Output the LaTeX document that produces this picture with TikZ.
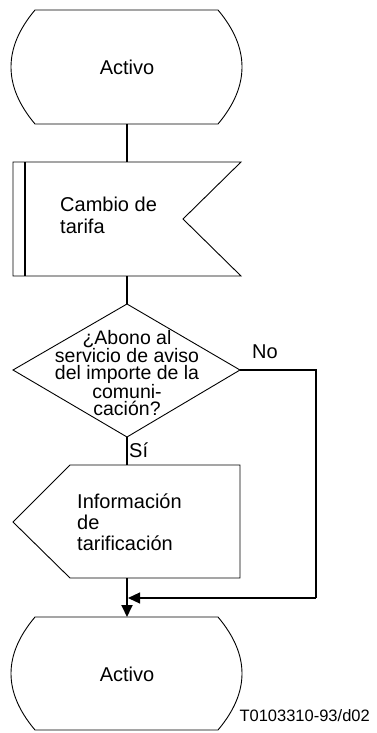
\documentclass[tikz,border=0pt]{standalone}
\usepackage{fontspec}
\setmainfont{Liberation Sans}
\usetikzlibrary{arrows.meta}
\begin{document}
\begin{tikzpicture}[x=1pt,y=-1pt,
  shapeline/.style={draw=black,line width=0.9pt,line join=miter},
  conn/.style={draw=black,line width=1.8pt},
  arr/.style={conn,-{Triangle[length=12pt,width=11pt]}},
  txt/.style={inner sep=0pt,font=\fontsize{20}{22}\selectfont},
  lbl/.style={inner sep=0pt,font=\fontsize{16.5}{18}\selectfont}]
\useasboundingbox (0,0) rectangle (376,733);
% state 1
\draw[shapeline] (35,10) -- (218,10) .. controls (250,48) and (250,86) .. (218,124)
  -- (35,124) .. controls (3,86) and (3,48) .. (35,10) -- cycle;
\node[txt] (s1) at (127,67) {Activo};
\coordinate (s1b) at (127,124);
% input signal
\draw[shapeline] (13,162) -- (241,162) -- (183,219) -- (241,276) -- (13,276) -- cycle;
\draw[line width=1.6pt] (25,162) -- (25,276);
\node[txt,anchor=west,align=left] (c1) at (60,215) {Cambio de\\tarifa};
\coordinate (c1t) at (127,162);
\coordinate (c1b) at (127,276);
% decision
\draw[shapeline] (127,304) -- (240,370) -- (127,437) -- (13,370) -- cycle;
\node[txt,align=center,font=\fontsize{19.5}{16.8}\selectfont] (d1) at (127,373)
  {¿Abono al\\servicio de aviso\\del importe de la\\comuni-\\cación?};
\coordinate (d1t) at (127,304);
\coordinate (d1r) at (240,370);
\coordinate (d1b) at (127,437);
\node[txt,anchor=west] (no) at (252,352) {No};
\node[txt,anchor=west] (si) at (129,450) {Sí};
% output signal
\draw[shapeline] (70,465) -- (240,465) -- (240,578) -- (70,578) -- (13,522) -- cycle;
\node[txt,anchor=west,align=left,font=\fontsize{20}{21}\selectfont] (o1) at (77,522) {Información\\de\\tarificación};
\coordinate (o1t) at (127,465);
\coordinate (o1b) at (127,578);
% state 2
\draw[shapeline] (35,617) -- (218,617) .. controls (250,655) and (250,692) .. (218,730)
  -- (35,730) .. controls (3,692) and (3,655) .. (35,617) -- cycle;
\node[txt] (s2) at (127,674) {Activo};
\coordinate (s2t) at (127,617);
% connectors
\draw[conn] (s1b) -- (c1t);
\draw[conn] (c1b) -- (d1t);
\draw[conn] (d1b) -- (o1t);
\draw[arr] (o1b) -- (s2t);
\coordinate (nocorner) at (316,370);
\coordinate (nojoin) at (316,598);
\coordinate (notip) at (128,598);
\draw[conn,line width=1.2pt] (d1r) -- (nocorner) -- (nojoin);
\draw[arr,line width=1.2pt] (nojoin) -- (notip);
\node[lbl,anchor=east] (ref) at (370,716) {T0103310-93/d02};
\end{tikzpicture}
\end{document}
